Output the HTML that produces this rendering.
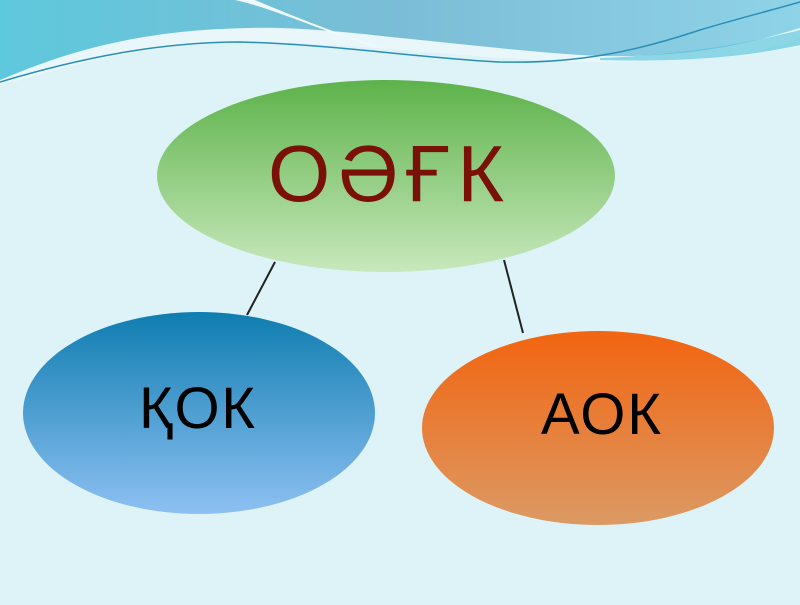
<!DOCTYPE html>
<html><head><style>body{margin:0;width:800px;height:600px;overflow:hidden;background:#ddf3f8}</style></head><body>
<svg width="800" height="600" viewBox="0 0 800 600" xmlns="http://www.w3.org/2000/svg">
<defs>
<linearGradient id="top" x1="0" y1="0" x2="1" y2="0"><stop offset="0" stop-color="#5ec8dc"/><stop offset="0.5" stop-color="#7bbdd6"/><stop offset="1" stop-color="#8fd3e8"/></linearGradient>
<linearGradient id="g" x1="0" y1="0" x2="0" y2="1"><stop offset="0" stop-color="#5db24a"/><stop offset="1" stop-color="#c8e8bc"/></linearGradient>
<linearGradient id="b" x1="0" y1="0" x2="0" y2="1"><stop offset="0" stop-color="#0f7db0"/><stop offset="1" stop-color="#8ec0f2"/></linearGradient>
<linearGradient id="o" x1="0" y1="0" x2="0" y2="1"><stop offset="0" stop-color="#f26410"/><stop offset="1" stop-color="#dc9a64"/></linearGradient>
</defs>
<path d="M0 0 H800 V30 C760 50 700 58 600 58 C500 56 350 25 250 28 C130 32 60 60 0 80 Z" fill="url(#top)"/>
<path d="M0 80 C60 55 130 30 250 28 C350 28 500 52 600 56 C700 58 760 40 800 28 L800 38 C760 55 700 62 600 62 C500 62 350 42 250 42 C130 44 60 70 0 85 Z" fill="#e9f7fa"/>
<path d="M0 82 C80 58 160 42 240 42 C330 44 420 58 500 62 C580 64 640 50 700 30 C740 18 780 8 800 2" fill="none" stroke="#2a8fb8" stroke-width="1.5"/>
<path d="M235 0 C280 10 330 35 380 48 L395 52 C340 35 290 15 255 0 Z" fill="#eefafd"/>
<path d="M600 58 C680 55 740 45 800 30 V45 C740 58 680 62 600 60Z" fill="#4ec0d8" opacity="0.6"/>
<line x1="275" y1="262" x2="247" y2="315" stroke="#222" stroke-width="2"/>
<line x1="504" y1="260" x2="523" y2="333" stroke="#222" stroke-width="2"/>
<ellipse cx="386" cy="176" rx="229" ry="96" fill="url(#g)"/>
<ellipse cx="199" cy="413" rx="176" ry="101" fill="url(#b)"/>
<ellipse cx="598" cy="428" rx="176" ry="97" fill="url(#o)"/>
<text x="386" y="201" text-anchor="middle" font-family="Liberation Sans, DejaVu Sans, sans-serif" font-size="80" fill="#7a1108" textLength="236">ОӘҒК</text>
<text x="197" y="428" text-anchor="middle" font-family="Liberation Sans, DejaVu Sans, sans-serif" font-size="58" fill="#000" textLength="116">ҚОК</text>
<text x="601" y="434" text-anchor="middle" font-family="Liberation Sans, DejaVu Sans, sans-serif" font-size="58" fill="#000" textLength="120">АОК</text>
</svg>
</body></html>
